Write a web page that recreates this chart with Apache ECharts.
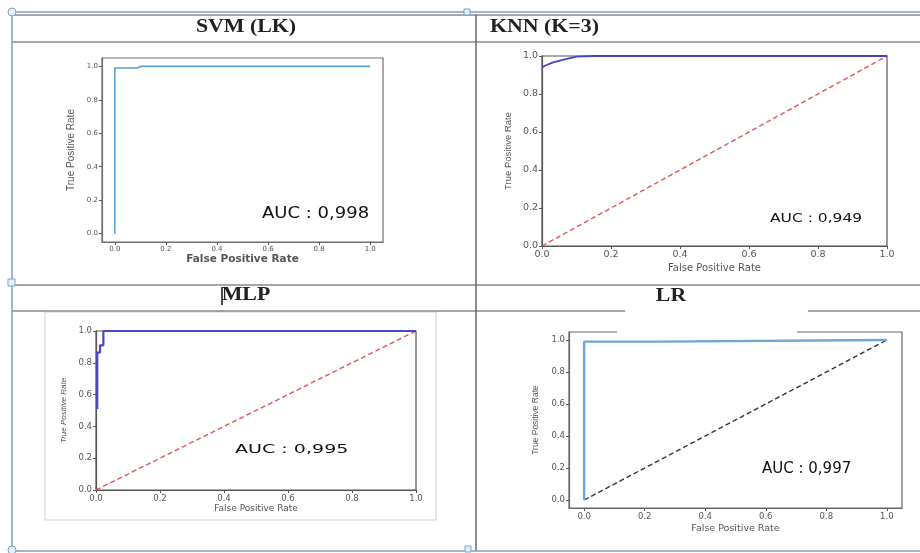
<!DOCTYPE html>
<html>
<head>
<meta charset="utf-8">
<script src="https://cdn.jsdelivr.net/npm/echarts@6/dist/echarts.min.js"></script>
<style>html,body{margin:0;padding:0;background:#fff;}#c{width:920px;height:553px;}</style>
</head>
<body>
<div id="c"></div>
<script>
// ---- data ----
const panelTitles = ['SVM (LK)', 'KNN (K=3)', 'MLP', 'LR'];
const aucLabels = ['AUC : 0,998', 'AUC : 0,949', 'AUC : 0,995', 'AUC : 0,997'];
const tickValues = [0, 0.2, 0.4, 0.6, 0.8, 1.0];
const xName = 'False Positive Rate';
const yName = 'True Positive Rate';

const svmFpr = [0, 0, 0.09, 0.10, 1.0];
const svmTpr = [0, 0.99, 0.99, 1.0, 1.0];

const knnFpr = [0, 0.01, 0.03, 0.06, 0.10, 0.15, 1.0];
const knnTpr = [0.94, 0.95, 0.965, 0.98, 0.997, 1.0, 1.0];

const mlpFpr = [0.004, 0.004, 0.0125, 0.0125, 0.023, 0.023, 1.0];
const mlpTpr = [0.51, 0.864, 0.864, 0.91, 0.91, 1.0, 1.0];

const lrFpr = [0, 0, 0.25, 0.25, 1.0];
const lrTpr = [0, 0.99, 0.99, 1.0, 1.0];

const diagX = [0, 1];
const diagY = [0, 1];

function pairs(xs, ys) { return xs.map((x, i) => [x, ys[i]]); }

// ---- panel layout ----
const panels = [
  {grid:{left:102, top:58, width:281, height:184}, min:-0.05, max:1.05, border:'#707070',
   tickFont:{fontFamily:'DejaVu Sans', fontSize:7}, xNameFont:{fontFamily:'DejaVu Sans', fontWeight:'bold', fontSize:10.5},
   yNameFont:{fontFamily:'Liberation Sans', fontSize:10}, xGap:11, yGap:26},
  {grid:{left:542, top:56, width:345, height:190}, min:0, max:1, border:'#555',
   tickFont:{fontFamily:'DejaVu Sans', fontSize:9.5}, xNameFont:{fontFamily:'DejaVu Sans', fontSize:10},
   yNameFont:{fontFamily:'Liberation Sans', fontSize:9.5}, xGap:17, yGap:29},
  {grid:{left:96, top:331, width:320, height:159}, min:0, max:1, border:'#555',
   tickFont:{fontFamily:'DejaVu Sans', fontSize:8.5}, xNameFont:{fontFamily:'DejaVu Sans', fontSize:9},
   yNameFont:{fontFamily:'Liberation Sans', fontSize:8, fontStyle:'italic'}, xGap:14, yGap:28},
  {grid:{left:569, top:332, width:333, height:176}, min:-0.05, max:1.05, border:'#666',
   tickFont:{fontFamily:'DejaVu Sans', fontSize:8.5}, xNameFont:{fontFamily:'DejaVu Sans', fontSize:9.5},
   yNameFont:{fontFamily:'Liberation Sans', fontSize:8.5}, xGap:16, yGap:29}
];

const grids = [], xAxes = [], yAxes = [];
panels.forEach((p, i) => {
  grids.push(Object.assign({show:true, borderColor:p.border, borderWidth:1.2, outerBoundsMode:'none', containLabel:false}, p.grid));
  const common = {
    type:'value', gridIndex:i, min:p.min, max:p.max,
    axisLine:{show:true, onZero:false, lineStyle:{color:p.border, width:1.2}},
    axisTick:{show:true, length:3, customValues:tickValues, lineStyle:{color:'#555'}},
    axisLabel:{show:true, customValues:tickValues, color:'#555', margin:4,
      formatter:v => v.toFixed(1), ...p.tickFont},
    splitLine:{show:false},
    nameLocation:'middle'
  };
  xAxes.push(Object.assign({}, common, {name:xName, nameGap:p.xGap, nameTextStyle:Object.assign({color:'#555'}, p.xNameFont)}));
  yAxes.push(Object.assign({}, common, {name:yName, nameGap:p.yGap, nameTextStyle:Object.assign({color:'#555'}, p.yNameFont)}));
});

const series = [
  {type:'line', xAxisIndex:0, yAxisIndex:0, data:pairs(svmFpr, svmTpr), showSymbol:false, symbol:'none',
   lineStyle:{color:'#5aa0d2', width:1.6}, z:3},
  {type:'line', xAxisIndex:1, yAxisIndex:1, data:pairs(diagX, diagY), symbol:'none',
   lineStyle:{color:'#e05555', width:1.4, type:[5,3]}, z:2},
  {type:'line', xAxisIndex:1, yAxisIndex:1, data:pairs(knnFpr, knnTpr), symbol:'none', smooth:false,
   lineStyle:{color:'#4444c4', width:1.8}, z:3},
  {type:'line', xAxisIndex:2, yAxisIndex:2, data:pairs(diagX, diagY), symbol:'none',
   lineStyle:{color:'#e05555', width:1.4, type:[5,3]}, z:2},
  {type:'line', xAxisIndex:2, yAxisIndex:2, data:pairs(mlpFpr, mlpTpr), symbol:'none',
   lineStyle:{color:'#4848cc', width:2.2}, z:3},
  {type:'line', xAxisIndex:3, yAxisIndex:3, data:pairs(diagX, diagY), symbol:'none',
   lineStyle:{color:'#333', width:1.4, type:[5,3]}, z:2},
  {type:'line', xAxisIndex:3, yAxisIndex:3, data:pairs(lrFpr, lrTpr), symbol:'none',
   lineStyle:{color:'#6aa8d8', width:2.4}, z:3}
];

// ---- table frame & annotations ----
const blue = '#7f9dc8', grey = '#8a8a8a';
function ln(x1,y1,x2,y2,color,w){ return {type:'line', z:50, shape:{x1,y1,x2,y2}, style:{stroke:color, lineWidth:w||1.5}}; }
function txt(text, x, y, font, align, sx, color){
  return {type:'text', z:60, x, y, scaleX:sx||1, style:{text, font, fill:color||'#222', textAlign:align, textVerticalAlign:'middle'}};
}
const titleFont = 'bold 19px "Liberation Serif"';
const graphics = [
  ln(12,12,920,12,blue,1.5),
  ln(12,15,920,15,grey,1.5),
  ln(12,42,920,42,grey,1.5),
  ln(12,285,920,285,grey,1.5),
  ln(12,311,625,311,grey,1.5),
  ln(808,311,920,311,grey,1.5),
  ln(12,12,12,551,blue,1.5),
  ln(476,15,476,551,'#666',1.5),
  ln(12,551,920,551,blue,1.5),
  {type:'rect', z:40, shape:{x:45,y:312,width:391,height:208}, style:{fill:'none', stroke:'#cfcfcf', lineWidth:1}},
  {type:'rect', z:55, shape:{x:617,y:328,width:180,height:7}, style:{fill:'#fff'}},
  {type:'circle', z:70, shape:{cx:12,cy:12,r:4}, style:{fill:'#e2f2f8', stroke:blue, lineWidth:1}},
  {type:'rect', z:70, shape:{x:464,y:9,width:6,height:6}, style:{fill:'#e2f2f8', stroke:blue, lineWidth:1}},
  {type:'rect', z:70, shape:{x:8,y:279,width:7,height:7}, style:{fill:'#e2f2f8', stroke:blue, lineWidth:1}},
  {type:'circle', z:70, shape:{cx:12,cy:550,r:4}, style:{fill:'#e2f2f8', stroke:blue, lineWidth:1}},
  {type:'rect', z:70, shape:{x:465,y:546,width:6,height:6}, style:{fill:'#e2f2f8', stroke:blue, lineWidth:1}},
  ln(222,287,222,305,'#111',1.5),
  txt(panelTitles[0], 246, 27, titleFont, 'center', 1.15),
  txt(panelTitles[1], 490, 27, titleFont, 'left', 1.15),
  txt(panelTitles[2], 246, 295, titleFont, 'center', 1.15),
  txt(panelTitles[3], 671, 296, titleFont, 'center', 1.15),
  txt(aucLabels[0], 262, 214, '15px "DejaVu Sans"', 'left', 1.2, '#111'),
  txt(aucLabels[1], 770, 219, '12.3px "DejaVu Sans"', 'left', 1.26, '#111'),
  txt(aucLabels[2], 235, 450, '12.3px "DejaVu Sans"', 'left', 1.55, '#111'),
  txt(aucLabels[3], 762, 469, '15px "DejaVu Sans"', 'left', 1.0, '#111')
];

const chart = echarts.init(document.getElementById('c'), null, {renderer:'canvas'});
chart.setOption({
  animation:false,
  backgroundColor:'#fff',
  grid:grids, xAxis:xAxes, yAxis:yAxes, series,
  graphic:{elements:graphics}
});
</script>
</body>
</html>
